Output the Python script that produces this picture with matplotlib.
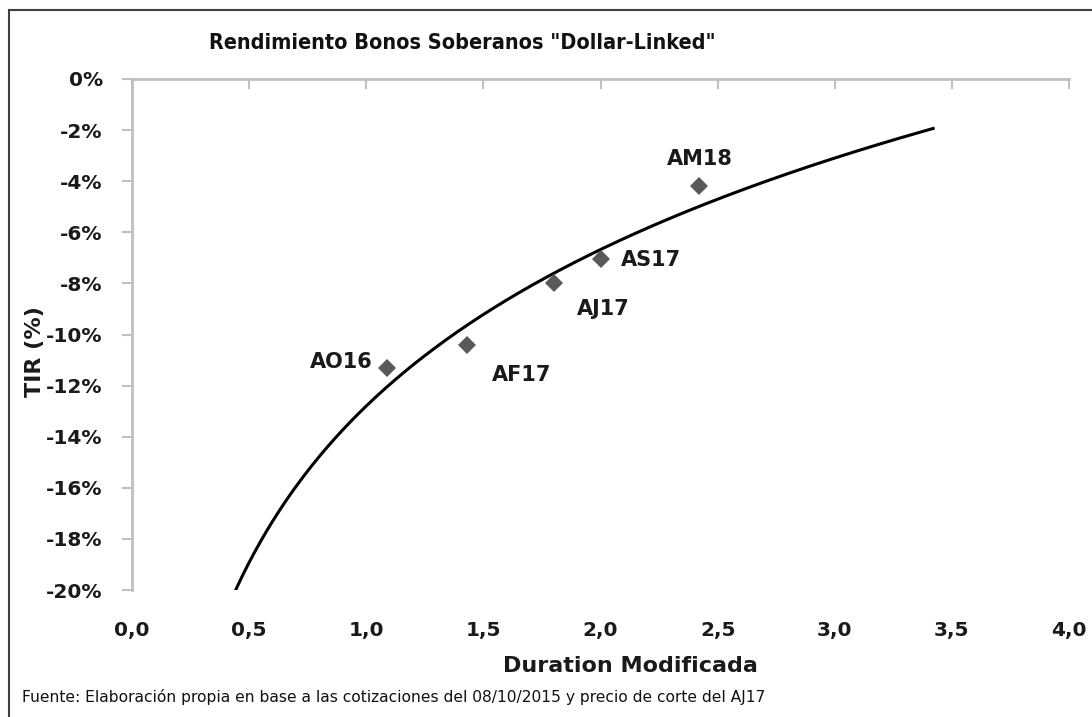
import matplotlib.pyplot as plt
import numpy as np
from matplotlib.patches import Rectangle
from matplotlib.ticker import FuncFormatter

# bonos y sus valores (duration modificada, TIR)
bonos = ['AO16', 'AF17', 'AJ17', 'AS17', 'AM18']
duration = [1.09, 1.43, 1.80, 2.00, 2.42]
tir = [-0.113, -0.104, -0.080, -0.0705, -0.042]

x_ticks = [0.0, 0.5, 1.0, 1.5, 2.0, 2.5, 3.0, 3.5, 4.0]
y_ticks = [0.0, -0.02, -0.04, -0.06, -0.08, -0.10, -0.12, -0.14, -0.16, -0.18, -0.20]

# linea de tendencia logaritmica (como la de excel), pronostico 1 periodo
forecast = 1.0
a, b = np.polyfit(np.log(duration), tir, 1)
xt = np.linspace(min(duration) - forecast, max(duration) + forecast, 400)
yt = a * np.log(xt) + b

fig = plt.figure(figsize=(10.92, 7.17), dpi=100)
ax = fig.add_axes([132 / 1092, 1 - 590 / 717, (1069 - 132) / 1092, (590 - 79) / 717])

ax.plot(xt, yt, color='black', lw=2.2, zorder=2)
ax.plot(duration, tir, 'D', color='#595959', ms=9.5, mew=0, zorder=3)

# etiquetas de cada bono (offset en pixeles)
offsets = {'AO16': (-15, 6, 'right'), 'AF17': (55, -30, 'center'),
           'AJ17': (50, -26, 'center'), 'AS17': (20, -1, 'left'),
           'AM18': (1, 27, 'center')}
for name, xv, yv in zip(bonos, duration, tir):
    dx, dy, ha = offsets[name]
    ax.annotate(name, (xv, yv), xytext=(dx, dy), textcoords='offset pixels',
                ha=ha, va='center', fontsize=15, fontweight='bold', color='#1a1a1a')

ax.set_xlim(0, 4)
ax.set_ylim(-0.20, 0)
ax.set_xticks(x_ticks)
ax.set_yticks(y_ticks)
ax.xaxis.set_major_formatter(FuncFormatter(lambda v, p: ('%.1f' % v).replace('.', ',')))
ax.yaxis.set_major_formatter(FuncFormatter(lambda v, p: '%d%%' % round(v * 100)))

for s in ['right', 'bottom']:
    ax.spines[s].set_visible(False)
for s in ['top', 'left']:
    ax.spines[s].set_color('#c0c0c0')
    ax.spines[s].set_linewidth(2)

ax.tick_params(axis='x', top=True, bottom=False, labeltop=False, labelbottom=True,
               direction='in', length=7, width=1.5, color='#c0c0c0', pad=22,
               labelsize=14.5)
ax.tick_params(axis='y', direction='out', length=7, width=1.5, color='#c0c0c0',
               pad=14, labelsize=14.5)
for lbl in ax.get_xticklabels() + ax.get_yticklabels():
    lbl.set_fontweight('bold')
    lbl.set_color('#1a1a1a')

fig.text(462 / 1092, 1 - 43 / 717, 'Rendimiento Bonos Soberanos "Dollar-Linked"',
         ha='center', va='center', fontsize=15.5, fontweight='bold',
         family='DejaVu Sans', fontstretch='condensed', color='#111111')
fig.text(630 / 1092, 1 - 666 / 717, 'Duration Modificada', ha='center', va='center',
         fontsize=16, fontweight='bold', color='#1a1a1a')
fig.text(35 / 1092, 1 - 352 / 717, 'TIR (%)', ha='center', va='center', rotation=90,
         fontsize=16, fontweight='bold', color='#1a1a1a')
fig.text(22 / 1092, 1 - 697 / 717,
         'Fuente: Elaboración propia en base a las cotizaciones del 08/10/2015 y precio de corte del AJ17',
         ha='left', va='center', fontsize=11.2, color='#111111')

# borde del grafico
fig.patches.append(Rectangle((9 / 1092, -0.1), 1.2, 1 - 10 / 717 + 0.1, transform=fig.transFigure,
                             fill=False, edgecolor='#404040', lw=1.5))

fig.savefig('out.png', dpi=100)
